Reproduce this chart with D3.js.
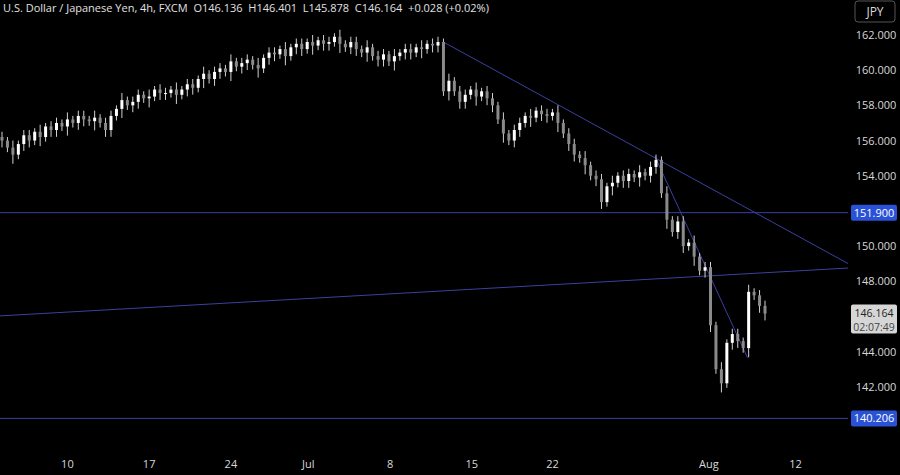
<!DOCTYPE html>
<html><head><meta charset="utf-8">
<script src="https://cdn.jsdelivr.net/npm/d3@7"></script>
<style>body{margin:0;background:#000}svg{display:block;font-family:"Open Sans",sans-serif}</style>
</head><body><div id="vis"></div>
<script>
// 8h candle closes
const CLOSES = [
156.0,155.6,155.2,155.8,156.3,156.0,156.5,156.2,156.8,156.6,
157.0,156.8,157.2,157.0,157.4,157.2,157.1,157.3,157.0,156.6,
157.4,157.8,158.3,158.0,158.2,158.6,158.4,158.5,158.9,158.7,
158.7,158.9,158.6,158.9,159.2,159.0,159.5,159.8,159.5,159.9,
160.1,159.9,160.5,160.2,160.4,160.6,160.3,160.1,160.7,161.0,
160.9,161.2,160.8,161.3,161.5,161.2,161.6,161.4,161.7,161.5,
161.6,161.9,161.5,161.3,161.6,161.2,161.0,161.3,160.8,160.6,
160.9,160.5,160.8,161.0,161.2,161.0,161.3,161.2,161.5,161.4,
161.6,158.8,159.4,158.8,158.2,158.6,158.9,158.5,158.8,158.4,
158.0,157.2,156.4,156.0,156.6,157.0,157.4,157.3,157.7,157.5,
157.4,157.6,157.0,156.4,155.8,155.2,155.0,154.6,154.0,153.8,
152.5,153.4,153.6,154.0,153.7,154.1,153.9,154.2,154.0,154.5,
154.9,153.0,151.5,150.8,151.4,150.0,150.2,149.4,148.6,148.8,
145.5,143.0,142.2,144.5,145.0,144.6,144.2,147.4,147.2,146.6,146.164];
const WICKS = [0.3,0.2,0.4,0.2,0.3];
const Y_TICKS = [142,144,146,148,150,152,154,156,158,160,162];
const X_LABELS = ["10","17","24","Jul","8","15","22","Aug","12"];
const X_LABEL_IDX = [12,27,42,56.2,71.2,86.2,101,129.7,145.6];
const LEVELS = [151.9, 140.206];
// trendlines [idx0, price0, idx1, price1]
const TRENDS = [[81,161.6,155.7,148.93],[-0.5,146.03,155.7,148.76],[119.8,155.1,136.8,143.65]];
const HEADER = "U.S. Dollar / Japanese Yen, 4h, FXCM  O146.136  H146.401  L145.878  C146.164  +0.028 (+0.02%)";

const W = 900, H = 475, PLOT_R = 848;
const LINE = "#3a40a0";

const svg = d3.select("#vis").append("svg").attr("width", W).attr("height", H);
const x = d3.scaleLinear().domain([0, 140]).range([2, 765]);
const y = d3.scaleLinear().domain([140, 162]).range([422, 35]);

const g = svg.append("g");
g.append("clipPath").attr("id", "c").append("rect").attr("width", PLOT_R).attr("height", 440);
const plot = g.append("g").attr("clip-path", "url(#c)");

// levels and trendlines
plot.selectAll(".lvl").data(LEVELS).enter().append("line")
  .attr("x1", 0).attr("x2", PLOT_R).attr("y1", d => y(d)).attr("y2", d => y(d))
  .attr("stroke", LINE).attr("stroke-width", 1);
plot.selectAll(".tr").data(TRENDS).enter().append("line")
  .attr("x1", d => x(d[0])).attr("y1", d => y(d[1]))
  .attr("x2", d => x(d[2])).attr("y2", d => y(d[3]))
  .attr("stroke", LINE).attr("stroke-width", 1);

// candles
const candles = CLOSES.map((c, i) => {
  const o = i ? CLOSES[i - 1] : c + 0.2;
  const w = WICKS[i % WICKS.length];
  return { i, o, c, h: Math.max(o, c) + w, l: Math.min(o, c) - w * 1.3 };
});
const cg = plot.selectAll(".cd").data(candles).enter().append("g");
cg.append("line").attr("x1", d => x(d.i)).attr("x2", d => x(d.i))
  .attr("y1", d => y(d.h)).attr("y2", d => y(d.l)).attr("stroke", "#d0d0d0");
cg.append("rect").attr("x", d => x(d.i) - 1.5).attr("width", 3)
  .attr("y", d => y(Math.max(d.o, d.c))).attr("height", d => Math.max(1, Math.abs(y(d.o) - y(d.c))))
  .attr("fill", d => d.c >= d.o ? "#ffffff" : "#8a8a8a");

const last = CLOSES[CLOSES.length - 1];
const TAGS = LEVELS.concat([last]);

// right axis labels (hidden where a tag sits)
svg.selectAll(".yt").data(Y_TICKS.filter(t => TAGS.every(v => Math.abs(y(v) - y(t)) > 14))).enter().append("text")
  .attr("x", 876).attr("y", d => y(d) + 4).attr("text-anchor", "middle")
  .attr("fill", "#d8d8d8").attr("font-size", 11).text(d => d.toFixed(3));

// level tags
LEVELS.forEach(v => {
  svg.append("rect").attr("x", 851).attr("y", y(v) - 8).attr("width", 46).attr("height", 16).attr("rx", 2).attr("fill", "#2a52d6");
  svg.append("text").attr("x", 874).attr("y", y(v) + 4).attr("text-anchor", "middle")
    .attr("fill", "#fff").attr("font-size", 11).text(v.toFixed(3));
});
svg.append("rect").attr("x", 851).attr("y", y(last) - 9).attr("width", 46).attr("height", 29).attr("rx", 2).attr("fill", "#d6d6d6");
svg.append("text").attr("x", 874).attr("y", y(last) + 3).attr("text-anchor", "middle")
  .attr("fill", "#222").attr("font-size", 10.5).text(last.toFixed(3));
svg.append("text").attr("x", 874).attr("y", y(last) + 17).attr("text-anchor", "middle")
  .attr("fill", "#444").attr("font-size", 10.5).text("02:07:49");

// JPY box
svg.append("rect").attr("x", 855).attr("y", 1).attr("width", 40).attr("height", 21).attr("rx", 3)
  .attr("fill", "#000").attr("stroke", "#555");
svg.append("text").attr("x", 875).attr("y", 16).attr("text-anchor", "middle")
  .attr("fill", "#ddd").attr("font-size", 12).text("JPY");

// x labels
svg.selectAll(".xt").data(X_LABELS).enter().append("text")
  .attr("x", (d, i) => x(X_LABEL_IDX[i])).attr("y", 468).attr("text-anchor", "middle")
  .attr("fill", "#d8d8d8").attr("font-size", 11).text(d => d);

svg.append("text").attr("x", 3).attr("y", 12).attr("fill", "#e0e0e0").attr("font-size", 11)
  .style("white-space", "pre").text(HEADER);
</script></body></html>
